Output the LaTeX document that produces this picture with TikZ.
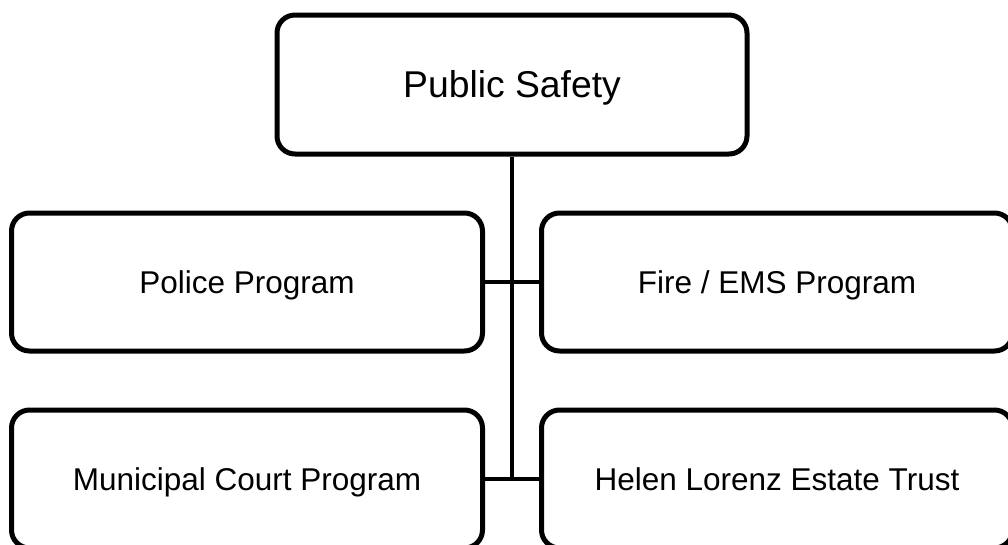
\documentclass[tikz,border=0pt]{standalone}
\usepackage{fontspec}
\setmainfont{Liberation Sans}

\begin{document}
\begin{tikzpicture}[
    x=1pt, y=-1pt,
    unit/.style={rectangle, draw=black, line width=5pt, rounded corners=18pt, fill=white, minimum width=471pt, minimum height=138pt, text height=22.6pt, text depth=0pt, font=\fontsize{31.5}{38}\selectfont},
    head/.style={unit, minimum width=470pt, minimum height=139pt, text height=26.7pt, font=\fontsize{37.3}{44}\selectfont},
    link/.style={line width=4.5pt}
]

\useasboundingbox (0,0) rectangle (1008,544);
\clip (0,0) rectangle (1008,544);

% Department
\node[head] (safety) at (512,84.5) {Public Safety};

% Programs
\node[unit] (police) at (247,282) {Police Program};
\node[unit] (fire) at (777,282) {Fire / EMS Program};
\node[unit] (court) at (247,479) {Municipal Court Program};
\node[unit] (trust) at (777,479) {Helen Lorenz Estate Trust};

% Connectors
\coordinate (spine) at (safety.south |- court.east);
\draw[link] (safety.south) -- (spine);
\draw[link] (police) -- (fire);
\draw[link] (court) -- (trust);

\end{tikzpicture}
\end{document}
